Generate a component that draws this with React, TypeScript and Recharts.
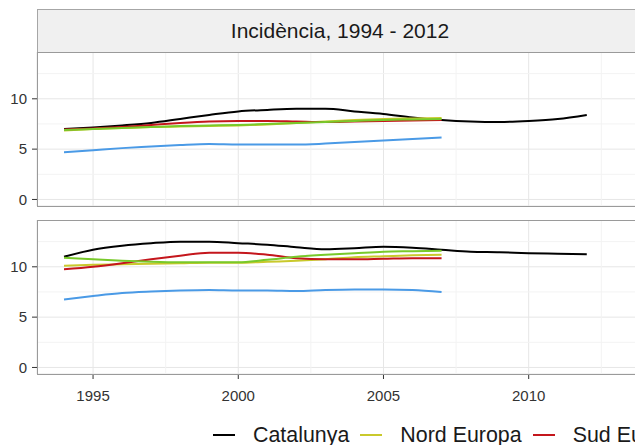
import { LineChart, Line, XAxis, YAxis, CartesianGrid, ReferenceLine } from 'recharts'

const years = [
  1994, 1995, 1996, 1997, 1998, 1999, 2000, 2001, 2002, 2003, 2004, 2005, 2006,
  2007, 2008, 2009, 2010, 2011, 2012,
]

// top panel
const catTop = [7.0, 7.15, 7.35, 7.6, 8.0, 8.4, 8.75, 8.9, 9.0, 9.0, 8.75, 8.5, 8.15, 7.9, 7.75, 7.7, 7.8, 8.0, 8.4]
const nordTop = [6.85, 7.0, 7.1, 7.2, 7.25, 7.3, 7.35, 7.45, 7.6, 7.75, 7.9, 8.0, 8.05, 8.1]
const sudTop = [6.95, 7.05, 7.2, 7.4, 7.6, 7.75, 7.8, 7.8, 7.75, 7.7, 7.75, 7.8, 7.85, 7.9]
const estTop = [6.9, 7.0, 7.1, 7.2, 7.3, 7.35, 7.4, 7.5, 7.6, 7.7, 7.8, 7.9, 7.95, 8.0]
const oestTop = [4.7, 4.9, 5.1, 5.25, 5.4, 5.5, 5.45, 5.45, 5.45, 5.55, 5.7, 5.85, 6.0, 6.15]

// bottom panel
const catBot = [11.0, 11.7, 12.1, 12.35, 12.5, 12.5, 12.35, 12.2, 11.95, 11.75, 11.85, 12.0, 11.9, 11.7, 11.5, 11.45, 11.35, 11.3, 11.25]
const nordBot = [10.1, 10.2, 10.25, 10.3, 10.35, 10.4, 10.4, 10.5, 10.6, 10.75, 10.95, 11.05, 11.15, 11.2]
const sudBot = [9.75, 10.0, 10.35, 10.75, 11.1, 11.4, 11.4, 11.2, 10.85, 10.75, 10.75, 10.8, 10.85, 10.85]
const estBot = [10.9, 10.75, 10.6, 10.5, 10.45, 10.45, 10.45, 10.7, 11.0, 11.2, 11.35, 11.5, 11.55, 11.6]
const oestBot = [6.75, 7.1, 7.4, 7.55, 7.65, 7.7, 7.65, 7.65, 7.6, 7.7, 7.75, 7.75, 7.7, 7.5]

const xTicks = [1995, 2000, 2005, 2010]
const xMinor = [1997.5, 2002.5, 2007.5, 2012.5]
const yTicks = [0, 5, 10]
const yMinor = [2.5, 7.5, 12.5]

const series = [
  { key: 'cat', name: 'Catalunya', color: '#000000' },
  { key: 'nord', name: 'Nord Europa', color: '#c9c92c' },
  { key: 'sud', name: 'Sud Europa', color: '#c4161c' },
  { key: 'est', name: 'Est Europa', color: '#78c92a' },
  { key: 'oest', name: 'Oest Europa', color: '#4a9ae6' },
]

const buildRows = (cat: number[], nord: number[], sud: number[], est: number[], oest: number[]) =>
  years.map((year, i) => ({
    year,
    cat: cat[i] ?? null,
    nord: nord[i] ?? null,
    sud: sud[i] ?? null,
    est: est[i] ?? null,
    oest: oest[i] ?? null,
  }))

const topData = buildRows(catTop, nordTop, sudTop, estTop, oestTop)
const bottomData = buildRows(catBot, nordBot, sudBot, estBot, oestBot)

const font = "'Liberation Sans', Arial, sans-serif"
const xDomain = [1993.07, 2013.97]
const yDomain = [-0.65, 14.65]

function Panel({ data, showX }: { data: any[]; showX: boolean }) {
  return (
    <LineChart
      width={643}
      height={showX ? 184 : 164}
      data={data}
      margin={{ top: 0, right: 0, bottom: showX ? 0 : 10, left: 0 }}
    >
      <CartesianGrid stroke="#e6e6e6" strokeWidth={1} />
      {xMinor.map((v) => (
        <ReferenceLine key={'x' + v} x={v} stroke="#f3f3f3" />
      ))}
      {yMinor.map((v) => (
        <ReferenceLine key={'y' + v} y={v} stroke="#f3f3f3" />
      ))}
      <XAxis
        dataKey="year"
        type="number"
        domain={xDomain}
        ticks={xTicks}
        interval={0}
        allowDataOverflow
        hide={!showX}
        height={30}
        axisLine={false}
        tickSize={5}
        tickMargin={11}
        tickLine={{ stroke: '#333' }}
        tick={{ fill: '#333', fontSize: 15, fontFamily: font }}
      />
      <YAxis
        type="number"
        domain={yDomain}
        ticks={yTicks}
        interval={0}
        allowDataOverflow
        width={36}
        axisLine={false}
        tickSize={5}
        tickMargin={5}
        tickLine={{ stroke: '#333' }}
        tick={{ fill: '#333', fontSize: 15, fontFamily: font }}
      />
      {series.map((s) => (
        <Line
          key={s.key}
          type="monotone"
          dataKey={s.key}
          stroke={s.color}
          strokeWidth={2}
          dot={false}
          isAnimationActive={false}
        />
      ))}
    </LineChart>
  )
}

export default function App() {
  return (
    <div
      style={{
        position: 'absolute',
        left: 0,
        top: 0,
        width: 635,
        height: 445,
        overflow: 'hidden',
        background: '#fff',
        fontFamily: font,
      }}
    >
      <div
        style={{
          position: 'absolute',
          left: 37,
          top: 9,
          width: 606,
          height: 44,
          boxSizing: 'border-box',
          background: '#f0f0f0',
          border: '1px solid #a6a6a6',
          display: 'flex',
          alignItems: 'center',
          justifyContent: 'center',
          fontSize: 21,
          color: '#1a1a1a',
        }}
      >
        Incidència, 1994 - 2012
      </div>
      <div style={{ position: 'absolute', left: 1, top: 52 }}>
        <Panel data={topData} showX={false} />
      </div>
      <div style={{ position: 'absolute', left: 1, top: 220 }}>
        <Panel data={bottomData} showX={true} />
      </div>
      {[52, 220].map((t) => (
        <div
          key={t}
          style={{
            position: 'absolute',
            left: 37,
            top: t,
            width: 606,
            height: 155,
            boxSizing: 'border-box',
            border: '1px solid #9a9a9a',
            pointerEvents: 'none',
          }}
        />
      ))}
      <div
        style={{
          position: 'absolute',
          left: 213,
          top: 423,
          display: 'flex',
          alignItems: 'center',
          whiteSpace: 'nowrap',
          fontSize: 21.4,
          lineHeight: '24px',
          color: '#1a1a1a',
        }}
      >
        {series.map((s) => (
          <div key={s.key} style={{ display: 'flex', alignItems: 'center', marginRight: 11 }}>
            <div style={{ width: 22, height: 2, background: s.color, marginRight: 18 }} />
            <span>{s.name}</span>
          </div>
        ))}
      </div>
    </div>
  )
}
